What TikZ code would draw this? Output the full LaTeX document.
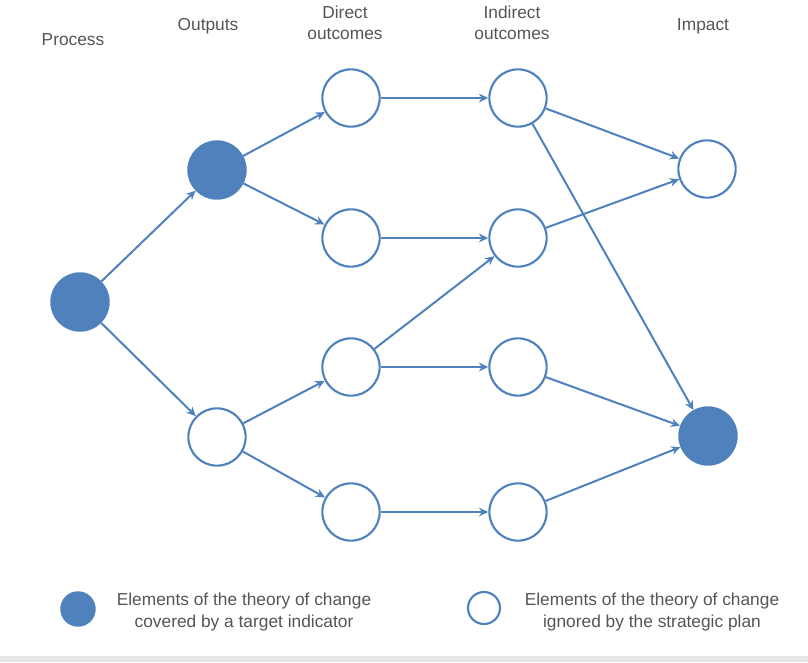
\documentclass[tikz,border=0pt]{standalone}
\usepackage{fontspec}
\setmainfont{Liberation Sans}
\usetikzlibrary{arrows.meta}
\definecolor{tocblue}{RGB}{79,129,189}
\definecolor{toctext}{RGB}{85,85,85}

\begin{document}
\begin{tikzpicture}[x=0.75pt, y=-0.75pt,
	covered/.style={circle, draw=tocblue, fill=tocblue, line width=1.6pt, minimum size=43pt, inner sep=0pt},
	ignored/.style={circle, draw=tocblue, fill=white, line width=1.6pt, minimum size=43pt, inner sep=0pt},
	link/.style={draw=tocblue, line width=1.5pt, -{Stealth[length=7pt, width=6.5pt]}},
	head/.style={text=toctext, font=\fontsize{13}{16}\selectfont, align=center}]
	\useasboundingbox (0,0) rectangle (808,662);
	% column headings
	\node[head] (hproc) at (73,40) {Process};
	\node[head] (hout) at (208,26) {Outputs};
	\node[head] (hdir) at (345,23) {Direct\\outcomes};
	\node[head] (hind) at (512,23) {Indirect\\outcomes};
	\node[head] (himp) at (703,26) {Impact};
	% chain of results
	\node[covered] (p) at (80,302) {};
	\node[covered] (o1) at (217,170) {};
	\node[ignored] (o2) at (217,437) {};
	\foreach \n/\y in {1/98, 2/238, 3/367, 4/512} {
		\node[ignored] (d\n) at (351,\y) {};
		\node[ignored] (i\n) at (518,\y) {};
	}
	\node[ignored] (m1) at (707,169) {};
	\node[covered] (m2) at (708,436) {};
	\foreach \a/\b in {p/o1, p/o2, o1/d1, o1/d2, o2/d3, o2/d4, d1/i1, d2/i2, d3/i2, d3/i3, d4/i4, i1/m1, i1/m2, i2/m1, i3/m2, i4/m2}
		\draw[link] (\a) -- (\b);
	% legend
	\node[covered, minimum size=25pt] (kcov) at (78,609) {};
	\node[head] (tcov) at (244,612) {Elements of the theory of change\\covered by a target indicator};
	\node[ignored, minimum size=24pt] (kign) at (484,608) {};
	\node[head] (tign) at (652,612) {Elements of the theory of change\\ignored by the strategic plan};
	\fill[black!10] (0,656) rectangle (808,662);
\end{tikzpicture}
\end{document}
